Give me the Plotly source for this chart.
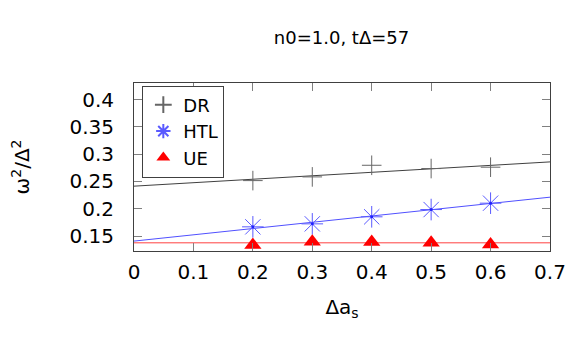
import plotly.graph_objects as go

# ---- data ----
x_vals = [0.2, 0.3, 0.4, 0.5, 0.6]
dr_vals = [0.2516, 0.2584, 0.2797, 0.2737, 0.2762]
htl_vals = [0.1668, 0.1723, 0.1852, 0.1985, 0.2102]
ue_vals = [0.1333, 0.1394, 0.1388, 0.1375, 0.1344]

fit_x = [0.0, 0.7]
dr_fit = [0.2414, 0.2859]
htl_fit = [0.1407, 0.2212]
ue_fit = [0.1375, 0.1375]

x_ticks = [0, 0.1, 0.2, 0.3, 0.4, 0.5, 0.6, 0.7]
x_ticktext = ["0", "0.1", "0.2", "0.3", "0.4", "0.5", "0.6", "0.7"]
y_ticks = [0.15, 0.2, 0.25, 0.3, 0.35, 0.4]
y_ticktext = ["0.15", "0.2", "0.25", "0.3", "0.35", "0.4"]

FONT = "DejaVu Sans, sans-serif"

fig = go.Figure()

# fit lines
fig.add_trace(go.Scatter(x=fit_x, y=dr_fit, mode="lines", line=dict(color="#404040", width=1),
                         showlegend=False, hoverinfo="skip"))
fig.add_trace(go.Scatter(x=fit_x, y=htl_fit, mode="lines", line=dict(color="#5050ff", width=1),
                         showlegend=False, hoverinfo="skip"))
fig.add_trace(go.Scatter(x=fit_x, y=ue_fit, mode="lines", line=dict(color="#ff4040", width=1),
                         showlegend=False, hoverinfo="skip"))

# points
fig.add_trace(go.Scatter(x=x_vals, y=dr_vals, mode="markers", name="DR",
                         marker=dict(symbol="cross-thin", size=14, color="#666666",
                                     line=dict(color="#666666", width=1))))
fig.add_trace(go.Scatter(x=x_vals, y=htl_vals, mode="markers", name="HTL",
                         marker=dict(symbol="asterisk-open", size=18, color="#5a5aff",
                                     line=dict(color="#6a6aff", width=1))))
fig.add_trace(go.Scatter(x=x_vals, y=htl_vals, mode="markers", showlegend=False,
                         marker=dict(symbol="circle", size=3, color="#2020ff"), hoverinfo="skip"))
fig.add_trace(go.Scatter(x=x_vals, y=ue_vals, mode="markers", name="UE",
                         marker=dict(symbol="triangle-up", size=15, color="#ff0000",
                                     line=dict(width=0))))

fig.update_layout(
    width=581, height=349,
    margin=dict(l=126, r=39, t=75, b=106),
    paper_bgcolor="white", plot_bgcolor="white",
    font=dict(family=FONT, size=20, color="black"),
    title=dict(text="n0=1.0, tΔ=57", x=333.5 / 581, xanchor="center",
               y=1 - 30 / 349, yanchor="middle", font=dict(family=FONT, size=18)),
    legend=dict(x=0.02, y=0.985, xanchor="left", yanchor="top",
                bgcolor="white", bordercolor="#404040", borderwidth=1,
                font=dict(family=FONT, size=18), tracegroupgap=0,
                itemsizing="constant"),
    showlegend=True,
)

fig.update_xaxes(range=[0, 0.7], tickvals=x_ticks, ticktext=x_ticktext, automargin=False,
                 ticks="inside", ticklen=8, tickcolor="#808080", mirror="allticks",
                 showline=True, linecolor="#404040", linewidth=1, showgrid=False, zeroline=False,
                 tickfont=dict(family=FONT, size=20), ticklabelstandoff=3,
                 title=dict(text="Δa<sub>s</sub>", font=dict(family=FONT, size=20), standoff=16))
fig.update_yaxes(range=[0.1225, 0.4306], tickvals=y_ticks, ticktext=y_ticktext, automargin=False,
                 ticks="inside", ticklen=8, tickcolor="#808080", mirror="allticks",
                 showline=True, linecolor="#404040", linewidth=1, showgrid=False, zeroline=False,
                 tickfont=dict(family=FONT, size=20), ticklabelstandoff=15,
                 title=dict(text="ω<sup>2</sup>/Δ<sup>2</sup>", font=dict(family=FONT, size=20), standoff=37))

fig.write_html("out.html")
